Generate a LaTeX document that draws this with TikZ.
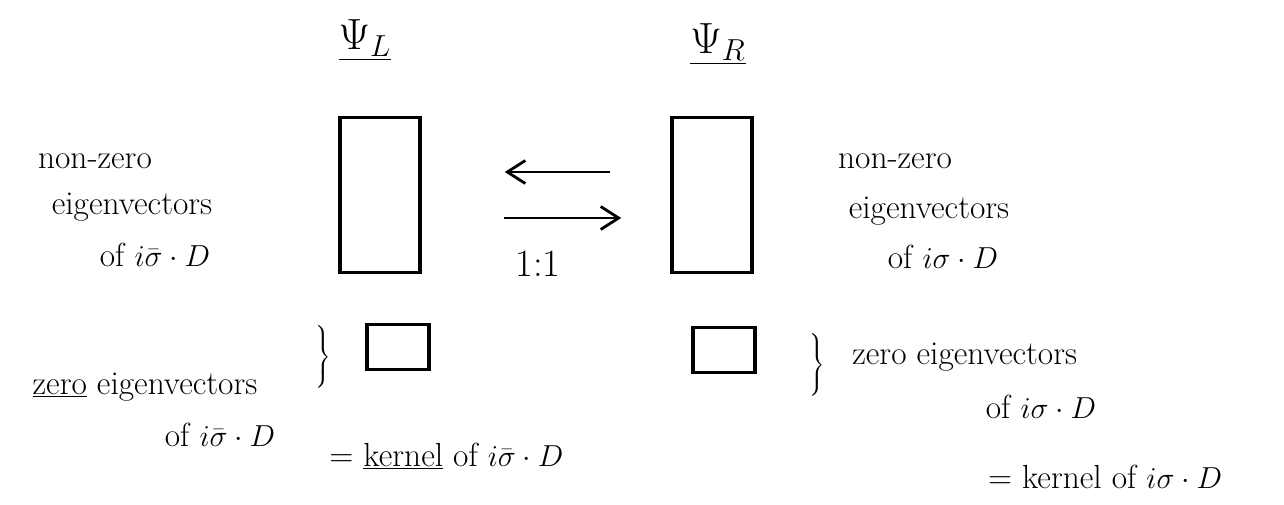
\documentclass[tikz,border=0pt]{standalone}
\usepackage{tikz}
\usetikzlibrary{positioning, arrows.meta}

\begin{document}
\begin{tikzpicture}[
  x=0.02cm, y=-0.02cm,
  slab/.style={draw, line width=2pt, minimum width=1.6cm, minimum height=3.1cm,
    inner sep=0pt},
  kerbox/.style={draw, line width=2pt, minimum width=1.25cm, minimum height=0.9cm,
    inner sep=0pt},
  note/.style={font=\fontsize{19}{23}\selectfont, anchor=base, inner sep=0pt},
  field/.style={font=\fontsize{26}{30}\selectfont, inner sep=0pt},
  brace/.style={font=\fontsize{19}{23}\selectfont, inner sep=0pt},
  arr/.style={-{Straight Barb[length=0.36cm, width=0.46cm]}, line width=1.6pt}
]
  \useasboundingbox (0,0) rectangle (1284,504);

  % the two chiral spaces
  \node[slab] (slabL) at (380,195) {};
  \node[slab] (slabR) at (712,195) {};
  \node[kerbox] (kerL) at (398,347) {};
  \node[kerbox] (kerR) at (724,350) {};

  \node[field] (psiL) at (365,40) {$\underline{\Psi_L}$};
  \node[field] (psiR) at (718,44) {$\underline{\Psi_R}$};

  \draw[arr, shorten <=1.2cm, shorten >=1.66cm]
    ([yshift=0.46cm]slabR.west) -- ([yshift=0.46cm]slabL.east);
  \draw[arr, shorten <=1.64cm, shorten >=0.98cm]
    ([yshift=-0.46cm]slabL.east) -- ([yshift=-0.46cm]slabR.west);
  \node[note, font=\fontsize{22}{26}\selectfont] (ratio) at (538,276) {1:1};

  % non-zero modes
  \node[note] (nzL) at (95,168) {non-zero};
  \node[note] (evL) at (132,214) {eigenvectors};
  \node[note] (ofL) at (155,266) {of $i\bar\sigma\cdot D$};
  \node[note] (nzR) at (895,168) {non-zero};
  \node[note] (evR) at (929,218) {eigenvectors};
  \node[note] (ofR) at (943,268) {of $i\sigma\cdot D$};

  % zero modes
  \node[brace] (brL) at (322,358)
    {$\left.\vrule height 15pt depth 15pt width 0pt\right\}$};
  \node[brace] (brR) at (816,366)
    {$\left.\vrule height 15pt depth 15pt width 0pt\right\}$};
  \node[note] (zeroL) at (145,394) {\underline{zero} eigenvectors};
  \node[note] (zofL) at (220,446) {of $i\bar\sigma\cdot D$};
  \node[note, anchor=base west] (kernL) at (329,466)
    {= \underline{kernel} of $i\bar\sigma\cdot D$};
  \node[note, anchor=base west] (zeroR) at (852,364) {zero eigenvectors};
  \node[note] (zofR) at (1041,418) {of $i\sigma\cdot D$};
  \node[note] (kernR) at (1105,488) {= kernel of $i\sigma\cdot D$};
\end{tikzpicture}
\end{document}
